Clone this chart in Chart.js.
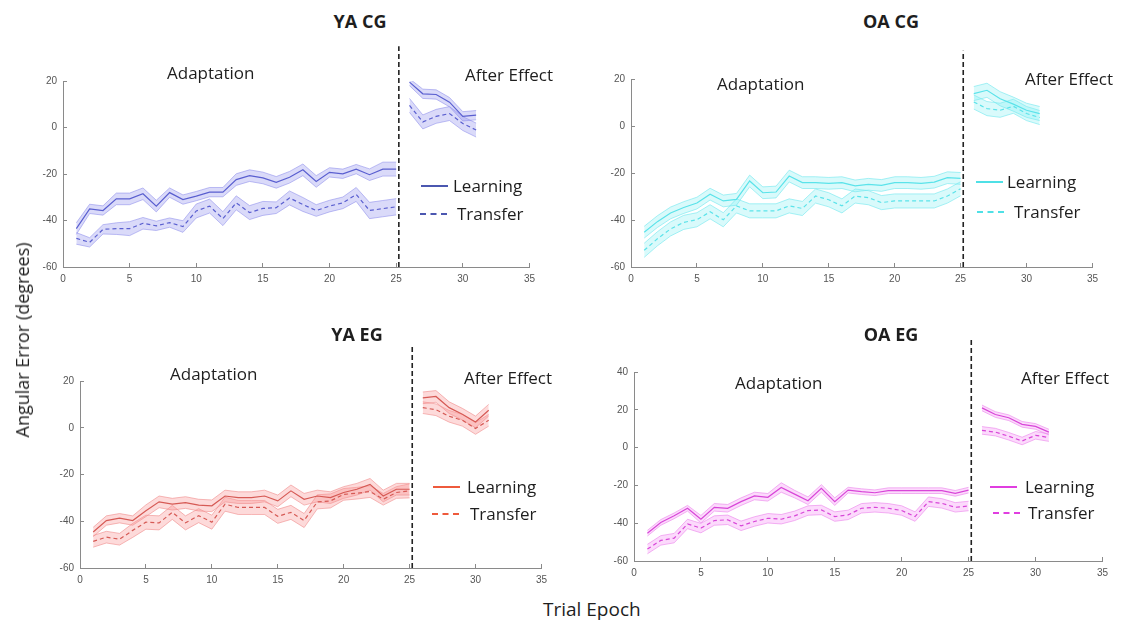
<!DOCTYPE html>
<html>
<head>
<meta charset="utf-8">
<script src="https://cdn.jsdelivr.net/npm/chart.js@4.4.1/dist/chart.umd.min.js"></script>
<style>
  body { margin: 0; background: #fff; width: 1139px; height: 628px; position: relative; overflow: hidden;
         font-family: "Open Sans", sans-serif; color: #1e1e1e; }
  canvas { position: absolute; }
  .t { position: absolute; white-space: nowrap; line-height: 1; transform: translateY(-50%); }
  .ttl { font-weight: bold; font-size: 18px; transform: translate(-50%, -50%); }
  .ann { font-size: 17px; }
  .key { position: absolute; width: 27px; height: 0; }
</style>
</head>
<body>
<canvas id="yaCg"></canvas>
<canvas id="oaCg"></canvas>
<canvas id="yaEg"></canvas>
<canvas id="oaEg"></canvas>

<div class="t ttl" style="left:360px;top:21px">YA CG</div>
<div class="t ttl" style="left:891px;top:21px">OA CG</div>
<div class="t ttl" style="left:357px;top:334px">YA EG</div>
<div class="t ttl" style="left:891px;top:334px">OA EG</div>

<div class="t ann" style="left:167px;top:72px">Adaptation</div>
<div class="t ann" style="left:465px;top:74px">After Effect</div>
<div class="t ann" style="left:717px;top:83px">Adaptation</div>
<div class="t ann" style="left:1025px;top:78px">After Effect</div>
<div class="t ann" style="left:170px;top:373px">Adaptation</div>
<div class="t ann" style="left:464px;top:377px">After Effect</div>
<div class="t ann" style="left:735px;top:382px">Adaptation</div>
<div class="t ann" style="left:1021px;top:377px">After Effect</div>

<div class="key" style="left:421px;top:185px;border-top:2px solid #4b57b0"></div>
<div class="t ann" style="left:453px;top:185px">Learning</div>
<div class="key" style="left:420px;top:213px;border-top:2px dashed #4b57b0"></div>
<div class="t ann" style="left:457px;top:213px">Transfer</div>

<div class="key" style="left:976px;top:181px;border-top:2px solid #4fe0e6"></div>
<div class="t ann" style="left:1007px;top:181px">Learning</div>
<div class="key" style="left:977px;top:211px;border-top:2px dashed #4fe0e6"></div>
<div class="t ann" style="left:1014px;top:211px">Transfer</div>

<div class="key" style="left:433px;top:486px;border-top:2px solid #ee5a3c"></div>
<div class="t ann" style="left:467px;top:486px">Learning</div>
<div class="key" style="left:432px;top:513px;border-top:2px dashed #ee5a3c"></div>
<div class="t ann" style="left:470px;top:513px">Transfer</div>

<div class="key" style="left:990px;top:486px;border-top:2px solid #e03ee0"></div>
<div class="t ann" style="left:1025px;top:486px">Learning</div>
<div class="key" style="left:993px;top:512px;border-top:2px dashed #e03ee0"></div>
<div class="t ann" style="left:1028px;top:512px">Transfer</div>

<div class="t" style="left:22px;top:340px;font-size:18px;transform:translate(-50%,-50%) rotate(-90deg)">Angular Error (degrees)</div>
<div class="t" style="left:543px;top:609px;font-size:19px">Trial Epoch</div>

<script>
// trial epochs: 1-25 adaptation, 26-31 after effect
const epochs = [1,2,3,4,5,6,7,8,9,10,11,12,13,14,15,16,17,18,19,20,21,22,23,24,25,26,27,28,29,30,31];
const adaptCount = 25;
const phaseBreak = 25.2;
const xTicks = [0,5,10,15,20,25,30,35];
const yTicks = [-60,-40,-20,0,20];
const yTicksWide = [-60,-40,-20,0,20,40];

const yaCgLearn = [-43.5,-35,-35.7,-30.7,-30.7,-28.5,-33.8,-28,-31,-29.5,-27.8,-27.8,-22.4,-20.7,-21.7,-23.6,-21.4,-18.2,-23.2,-19.3,-19.9,-17.9,-20.3,-17.9,-17.9, 19.5,14.5,14.2,10.9,4.8,5.3];
const yaCgLearnSem = [2.5,2,2,2.5,2.5,2.5,2.5,2,2,2,2,2,2.5,2.5,2.5,2.5,2.5,2.5,2.5,2,2,2,2.5,3,3, 1.5,2,2,2,2,2];
const yaCgTransfer = [-47.7,-49.4,-43.8,-43.5,-43.5,-41.2,-42.3,-40.9,-42.6,-35.9,-33.8,-39.2,-32.4,-36.6,-34.8,-34.5,-30.3,-33.1,-35.7,-33.8,-32.4,-28.8,-35.7,-34.9,-34.1, 9.5,2.4,4.8,6,1.7,-1.1];
const yaCgTransferSem = [2.5,2,2,2.5,3,2.5,2,2,2.5,3,3,3,3,3,3,2.5,3,3,2.5,2.5,2.5,3,3.5,3.5,3.5, 3,3,3,3,3,3];

const oaCgLearn = [-45.2,-40.7,-37,-34.7,-32.8,-29,-31.9,-31.2,-23.4,-28.4,-28.1,-21.3,-24.1,-24.1,-24.4,-24.1,-25.5,-24.8,-25.3,-24.1,-24.1,-24.4,-23.9,-22,-22.3, 13.8,15.2,11.6,9.3,6.7,5.3];
const oaCgLearnSem = [2.5,2.5,2.5,2.5,2.5,2.5,2.5,2.5,2.5,2.5,2.5,2.5,2.5,2.5,2.5,2.5,2.5,2.5,2.5,2.5,2.5,2.5,2.5,2.5,2.5, 3,3,3,3,3,3];
const oaCgTransfer = [-52.9,-48,-43.8,-41,-39.9,-36.5,-39.9,-34,-36.1,-36.1,-36.1,-34,-35.1,-29.8,-31.4,-34,-29.8,-30.5,-32.6,-31.9,-31.9,-31.9,-31.9,-29.8,-26.7, 10.2,7.4,6.7,8.4,5.3,3.6];
const oaCgTransferSem = [3,3,3,3,3,3,3,3,3,3,3,3,3,3,3,3,3,3,3,3,3,3,3,3,3, 3,3,3,3,3,3];

const yaEgLearn = [-44.6,-39.7,-38.7,-39.7,-35.5,-31.7,-32.7,-32,-33.1,-33.4,-29.2,-29.9,-29.9,-29.2,-31.3,-27,-30.6,-29.2,-29.9,-27.7,-26.3,-24.2,-29.2,-26.3,-26.3, 12.8,13.4,8.6,5.8,2.5,7.5];
const yaEgLearnSem = [2,2,2,2,2.5,2.5,2.5,2.5,2.5,2.5,2.5,2.5,2.5,2.5,2.5,2.5,2.5,2.5,2.5,2.5,2.5,2.5,2.5,2.5,2.5, 2.5,2.5,2.5,2.5,2.5,2.5];
const yaEgTransfer = [-48.6,-46.8,-47.7,-43.9,-40.4,-40.7,-36.2,-40.7,-37.6,-40.4,-32.7,-34.1,-34.1,-34.1,-37.9,-36.2,-39.7,-31.7,-31.3,-28.5,-28,-27.3,-30.6,-27.7,-27, 8.6,7.7,4.9,3.2,-0.3,3.2];
const yaEgTransferSem = [2.5,2.5,2.5,3,3,3,3,3,3,3,3,3,3,3,3,3,3,3,3,2.5,2.5,2.5,2.5,2.5,3, 2.5,2.5,2.5,2.5,2.5,2.5];

const oaEgLearn = [-45.3,-39.6,-36.1,-32.1,-37.9,-31.6,-32.1,-28.6,-25.6,-26.3,-21.1,-24.6,-28.1,-21.6,-28.6,-22.5,-23.3,-23.9,-22.8,-22.8,-22.8,-22.8,-22.8,-24.2,-22.5, 21,17.5,15.8,12.3,11.2,8.2];
const oaEgLearnSem = [1.5,1.5,1.5,1.5,2,2,2,2,2,2,2.5,2,2,2,2,1.5,1.5,1.5,1.5,1.5,1.5,1.5,1.5,1.5,1.5, 1.5,1.5,1.5,1.5,1.5,1.5];
const oaEgTransfer = [-53.7,-49.1,-47.9,-40.4,-42.6,-38.6,-38.2,-41.4,-39.1,-37.4,-37.9,-36.1,-33.3,-33,-36.5,-35.6,-32.1,-31.6,-32.1,-33.3,-36.5,-28.6,-29.5,-31.6,-30.9, 9.1,8.2,6,3.5,6.5,5.3];
const oaEgTransferSem = [2.5,2.5,2.5,2.5,2.5,2.5,2.5,2.5,2.5,2.5,2.5,2.5,2.5,2.5,2.5,2.5,2.5,2.5,2.5,2.5,2.5,2.5,2.5,2.5,2.5, 2,2,2,2,2,2];

const panels = [
  { id: "yaCg", box: [63, 81, 530, 267], ticks: yTicks, lineTop: 35,
    line: "#5a5fd0", band: "rgba(150,150,238,0.35)", edge: "rgba(140,140,235,0.7)",
    learn: yaCgLearn, learnSem: yaCgLearnSem, transfer: yaCgTransfer, transferSem: yaCgTransferSem },
  { id: "oaCg", box: [631, 79, 1093, 267], ticks: yTicks, lineTop: 32,
    line: "#5be3ea", band: "rgba(130,238,242,0.3)", edge: "rgba(110,232,238,0.75)",
    learn: oaCgLearn, learnSem: oaCgLearnSem, transfer: oaCgTransfer, transferSem: oaCgTransferSem },
  { id: "yaEg", box: [80, 381, 542, 568], ticks: yTicks, lineTop: 35,
    line: "#d65a55", band: "rgba(248,150,150,0.35)", edge: "rgba(240,140,140,0.75)",
    learn: yaEgLearn, learnSem: yaEgLearnSem, transfer: yaEgTransfer, transferSem: yaEgTransferSem },
  { id: "oaEg", box: [634, 372, 1103, 561], ticks: yTicksWide, lineTop: 57,
    line: "#d846d8", band: "rgba(245,150,245,0.35)", edge: "rgba(235,130,235,0.75)",
    learn: oaEgLearn, learnSem: oaEgLearnSem, transfer: oaEgTransfer, transferSem: oaEgTransferSem }
];

const Y_W = 30, X_H = 22, PAD_TOP = 45, PAD_RIGHT = 15;

const phaseDivider = {
  id: "phaseDivider",
  afterDatasetsDraw(chart, args, opts) {
    const { ctx, scales: { x, y } } = chart;
    const px = x.getPixelForValue(phaseBreak);
    ctx.save();
    ctx.strokeStyle = "#222";
    ctx.lineWidth = 1.6;
    ctx.setLineDash([5, 3]);
    ctx.beginPath();
    ctx.moveTo(px, y.getPixelForValue(-60));
    ctx.lineTo(px, y.getPixelForValue(opts.top));
    ctx.stroke();
    ctx.restore();
  }
};

function points(values, sem, sign, from, to) {
  const out = [];
  for (let i = from; i < to; i++) out.push({ x: epochs[i], y: values[i] + sign * sem[i] });
  return out;
}

function buildDatasets(p) {
  const sets = [];
  const phases = [[0, adaptCount], [adaptCount, epochs.length]];
  const series = [[p.learn, p.learnSem, []], [p.transfer, p.transferSem, [4, 3]]];
  for (const [from, to] of phases) {
    for (const [vals, sem, dash] of series) {
      sets.push({ data: points(vals, sem, 1, from, to), borderColor: p.edge, borderWidth: 0.8,
                  pointRadius: 0, fill: false, order: 2, tension: 0 });
      sets.push({ data: points(vals, sem, -1, from, to), borderColor: p.edge, borderWidth: 0.8,
                  backgroundColor: p.band, pointRadius: 0, fill: "-1", order: 2, tension: 0 });
      sets.push({ data: points(vals, sem, 0, from, to), borderColor: p.line, borderWidth: 1.2,
                  borderDash: dash, pointRadius: 0, fill: false, order: 1, tension: 0 });
    }
  }
  return sets;
}

// matlab style: ticks pointing into the plot
function axisStyle() {
  return {
    grid: { display: true, drawOnChartArea: false, drawTicks: true, tickLength: -4, color: "#8a8a8a" },
    border: { display: true, color: "#8a8a8a", width: 1 },
    ticks: { font: { family: "Liberation Sans", size: 10 }, color: "#555", autoSkip: false, maxRotation: 0, padding: 10 }
  };
}

for (const p of panels) {
  const [left, top, right, bottom] = p.box;
  const cv = document.getElementById(p.id);
  cv.width = Y_W + (right - left) + PAD_RIGHT;
  cv.height = PAD_TOP + (bottom - top) + X_H;
  cv.style.left = (left - Y_W) + "px";
  cv.style.top = (top - PAD_TOP) + "px";

  new Chart(cv.getContext("2d"), {
    type: "line",
    data: { datasets: buildDatasets(p) },
    options: {
      responsive: false,
      animation: false,
      layout: { padding: { top: PAD_TOP, right: PAD_RIGHT, left: 0, bottom: 0 } },
      plugins: { legend: { display: false }, tooltip: { enabled: false }, phaseDivider: { top: p.lineTop } },
      scales: {
        x: Object.assign(axisStyle(), {
          type: "linear", min: 0, max: 35,
          afterBuildTicks: (s) => { s.ticks = xTicks.map((v) => ({ value: v })); },
          afterFit: (s) => { s.height = X_H; }
        }),
        y: Object.assign(axisStyle(), {
          type: "linear", min: -60, max: p.ticks[p.ticks.length - 1],
          afterBuildTicks: (s) => { s.ticks = p.ticks.map((v) => ({ value: v })); },
          afterFit: (s) => { s.width = Y_W; }
        })
      }
    },
    plugins: [phaseDivider]
  });
}
</script>
</body>
</html>
